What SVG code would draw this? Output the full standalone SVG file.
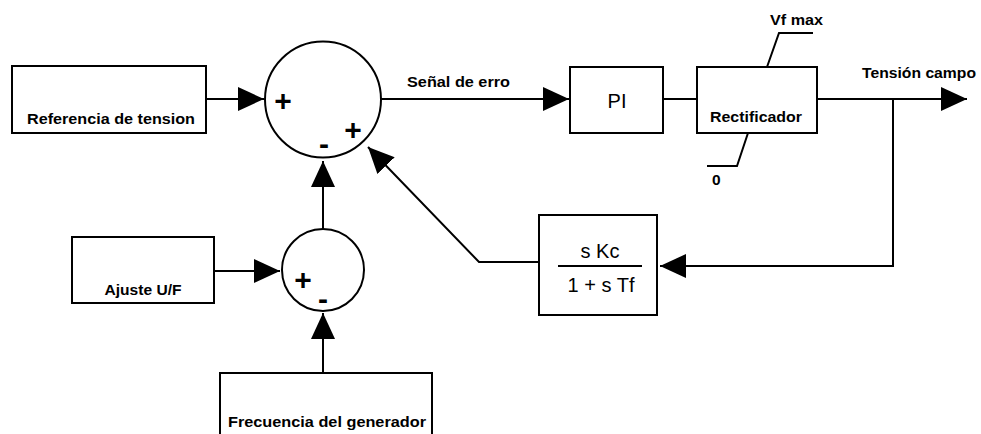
<svg xmlns="http://www.w3.org/2000/svg" width="981" height="434" viewBox="0 0 981 434">
<style>
.box{fill:#fff;stroke:#000;stroke-width:2}
.ln{fill:none;stroke:#000;stroke-width:2}
.lb{font-family:"Liberation Sans",Arial,sans-serif;font-weight:bold;font-size:15.5px;fill:#000}
.rg{font-family:"Liberation Sans",Arial,sans-serif;font-size:20px;fill:#000}
.sg{font-family:"Liberation Sans",Arial,sans-serif;font-weight:bold;font-size:30px;fill:#000}
</style>
<defs>
<marker id="ah" markerUnits="userSpaceOnUse" markerWidth="27" markerHeight="25" refX="26" refY="12" orient="auto">
<path d="M0,0 L26,12 L0,24 z" fill="#000"/>
</marker>
</defs>
<rect width="981" height="434" fill="#fff"/>
<g id="connectors">
<path class="ln" d="M206,99 L264,99" marker-end="url(#ah)"/>
<path class="ln" d="M381,99 L569,99" marker-end="url(#ah)"/>
<path class="ln" d="M663,99 L697,99"/>
<path class="ln" d="M817,99 L967,99" marker-end="url(#ah)"/>
<path class="ln" d="M893,99 L893,266 L660,266" marker-end="url(#ah)"/>
<path class="ln" d="M539,262 L479,262 L368,147" marker-end="url(#ah)"/>
<path class="ln" d="M323,229 L323,161" marker-end="url(#ah)"/>
<path class="ln" d="M214,271 L280,271" marker-end="url(#ah)"/>
<path class="ln" d="M323,373 L323,313" marker-end="url(#ah)"/>
<text class="lb" x="407" y="87" textLength="103" lengthAdjust="spacingAndGlyphs">Señal de erro</text>
<text class="lb" x="862" y="78" textLength="114" lengthAdjust="spacingAndGlyphs">Tensión campo</text>
</g>
<g id="ref">
<rect class="box" x="12" y="66" width="194" height="67"/>
<text class="lb" x="27" y="124" textLength="168" lengthAdjust="spacingAndGlyphs">Referencia de tension</text>
</g>
<g id="sum1">
<circle class="box" cx="323" cy="99.5" r="58"/>
<text class="sg" x="283" y="111" text-anchor="middle">+</text>
<text class="sg" x="324" y="154" text-anchor="middle">-</text>
<text class="sg" x="353" y="140" text-anchor="middle">+</text>
</g>
<g id="pi">
<rect class="box" x="570" y="67" width="93" height="66"/>
<text class="rg" x="617" y="108" text-anchor="middle" font-size="21">PI</text>
</g>
<g id="rect">
<rect class="box" x="697" y="67" width="120" height="66"/>
<text class="lb" x="756" y="122" text-anchor="middle" textLength="92" lengthAdjust="spacingAndGlyphs">Rectificador</text>
<path class="ln" d="M767,67 L779,33 L813,33"/>
<path class="ln" d="M748,133 L737,166 L707,166"/>
<text class="lb" x="770" y="25" textLength="53" lengthAdjust="spacingAndGlyphs">Vf max</text>
<text class="lb" x="712" y="185">0</text>
</g>
<g id="filter">
<rect class="box" x="539" y="215" width="118" height="100"/>
<text class="rg" x="600" y="258" text-anchor="middle" font-size="19">s Kc</text>
<path class="ln" d="M558,266 L642,266"/>
<text class="rg" x="601" y="292" text-anchor="middle" font-size="19">1 + s Tf</text>
</g>
<g id="ajuste">
<rect class="box" x="72" y="237" width="142" height="66"/>
<text class="lb" x="143" y="295" text-anchor="middle" textLength="77" lengthAdjust="spacingAndGlyphs">Ajuste U/F</text>
</g>
<g id="sum2">
<circle class="box" cx="323" cy="270" r="41"/>
<text class="sg" x="303" y="290" text-anchor="middle">+</text>
<text class="sg" x="323" y="309" text-anchor="middle">-</text>
</g>
<g id="freq">
<rect class="box" x="220" y="373" width="212" height="70"/>
<text class="lb" x="228" y="427" textLength="198" lengthAdjust="spacingAndGlyphs">Frecuencia del generador</text>
</g>
</svg>
